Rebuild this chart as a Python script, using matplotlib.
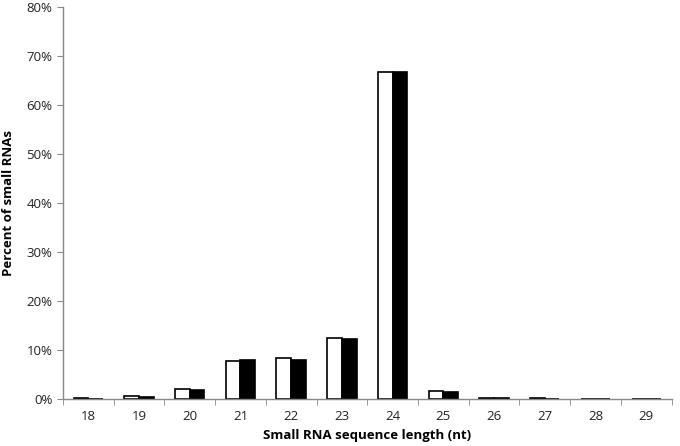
import matplotlib
matplotlib.use("Agg")
import matplotlib.pyplot as plt
import numpy as np
from matplotlib.ticker import FuncFormatter, FixedLocator

lengths = ["18", "19", "20", "21", "22", "23", "24", "25", "26", "27", "28", "29"]
series_white = [0.3, 0.7, 2.0, 7.8, 8.4, 12.5, 66.7, 1.7, 0.3, 0.2, 0.1, 0.1]
series_black = [0.1, 0.4, 1.9, 8.0, 7.9, 12.3, 66.7, 1.5, 0.15, 0.05, 0.05, 0.05]

plt.rcParams['font.family'] = ['Open Sans', 'DejaVu Sans']

fig = plt.figure(figsize=(6.8, 4.46), dpi=100)
ax = fig.add_axes([0.0926, 0.105, 0.895, 0.879])

x = np.arange(len(lengths))
w = 0.29
ax.bar(x - w/2, series_white, width=w, color="white", edgecolor="black", linewidth=1.2)
ax.bar(x + w/2, series_black, width=w, color="black", edgecolor="black", linewidth=1.2)

ax.set_xlim(-0.5, len(lengths) - 0.5)
ax.set_ylim(0, 80)
ax.set_yticks(np.arange(0, 81, 10))
ax.yaxis.set_major_formatter(FuncFormatter(lambda v, p: f"{int(v)}%"))
ax.set_xticks(x)
ax.set_xticklabels(lengths)
ax.xaxis.set_minor_locator(FixedLocator(np.arange(-0.5, len(lengths), 1.0)))
ax.tick_params(axis='x', which='major', length=0, pad=8, labelsize=9.5, colors='#222222')
ax.tick_params(axis='x', which='minor', length=4, color='#888888', direction='out')
ax.tick_params(axis='y', length=4, color='#888888', direction='out', labelsize=9.5, labelcolor='#222222')

for s in ['top', 'right']:
    ax.spines[s].set_visible(False)
for s in ['left', 'bottom']:
    ax.spines[s].set_color('#888888')
    ax.spines[s].set_linewidth(1.0)

ax.set_xlabel("Small RNA sequence length (nt)", fontsize=9.5, fontweight='bold', labelpad=4)
ax.set_ylabel("Percent of small RNAs", fontsize=9.5, fontweight='bold', labelpad=8)

fig.savefig("out.png", dpi=100)
